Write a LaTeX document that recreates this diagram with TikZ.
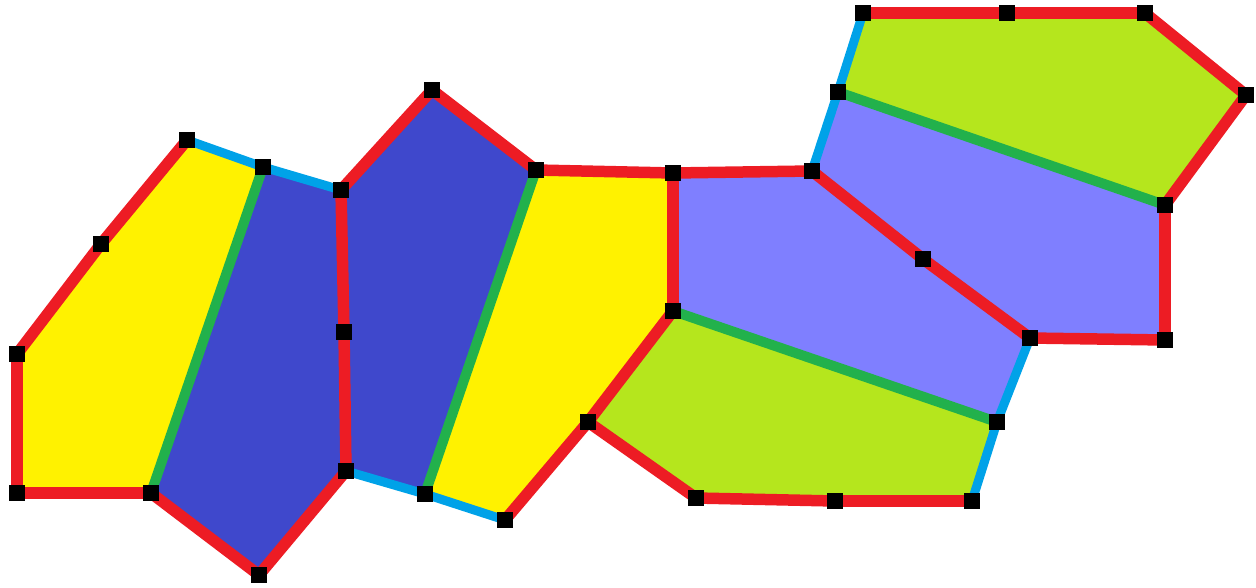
\documentclass[tikz,border=0pt]{standalone}
\usetikzlibrary{positioning}
\definecolor{ered}{HTML}{ED1C24}
\definecolor{ecyan}{HTML}{00A2E8}
\definecolor{egreen}{HTML}{22B14C}
\definecolor{fyellow}{HTML}{FFF200}
\definecolor{fblue}{HTML}{3F48CC}
\definecolor{fviolet}{HTML}{7F7FFF}
\definecolor{flime}{HTML}{B5E61D}
\tikzset{
  redge/.style={draw=ered,line width=11.5pt,line cap=round},
  cedge/.style={draw=ecyan,line width=9pt,line cap=butt},
  gedge/.style={draw=egreen,line width=10pt,line cap=butt},
  vsq/.style={fill=black,inner sep=0pt,minimum size=16pt,draw=none,rectangle},
}
\begin{document}
\begin{tikzpicture}[x=1pt,y=-1pt]
\useasboundingbox (0,0) rectangle (1256,587);
% vertices
\coordinate (A) at (187,140);
\coordinate (B) at (263,167);
\coordinate (C) at (341,190);
\coordinate (D) at (432,90);
\coordinate (E) at (536,170);
\coordinate (F) at (673,173);
\coordinate (G) at (812,171);
\coordinate (H) at (838,92);
\coordinate (I) at (863,13);
\coordinate (J) at (1007,13);
\coordinate (K) at (1145,13);
\coordinate (L) at (1246,95);
\coordinate (M) at (1165,205);
\coordinate (N) at (1165,340);
\coordinate (O) at (1030,338);
\coordinate (P) at (923,259);
\coordinate (Q) at (673,311);
\coordinate (R) at (997,422);
\coordinate (S) at (972,501);
\coordinate (T) at (835,501);
\coordinate (U) at (696,498);
\coordinate (V) at (588,422);
\coordinate (W) at (505,520);
\coordinate (X) at (425,494);
\coordinate (Y) at (346,471);
\coordinate (Z) at (259,575);
\coordinate (AA) at (151,493);
\coordinate (AB) at (17,493);
\coordinate (AC) at (17,354);
\coordinate (AD) at (101,244);
\coordinate (AE) at (344,332);
% faces
\fill[fyellow] (A) -- (B) -- (AA) -- (AB) -- (AC) -- (AD) -- cycle;
\fill[fblue] (B) -- (C) -- (AE) -- (Y) -- (Z) -- (AA) -- cycle;
\fill[fblue] (C) -- (D) -- (E) -- (X) -- (Y) -- (AE) -- cycle;
\fill[fyellow] (E) -- (F) -- (Q) -- (V) -- (W) -- (X) -- cycle;
\fill[fviolet] (F) -- (G) -- (P) -- (O) -- (R) -- (Q) -- cycle;
\fill[fviolet] (H) -- (M) -- (N) -- (O) -- (P) -- (G) -- cycle;
\fill[flime] (I) -- (J) -- (K) -- (L) -- (M) -- (H) -- cycle;
\fill[flime] (Q) -- (R) -- (S) -- (T) -- (U) -- (V) -- cycle;
% edges
\draw[cedge] (A) -- (B);
\draw[cedge] (B) -- (C);
\draw[cedge] (Y) -- (X);
\draw[cedge] (X) -- (W);
\draw[cedge] (O) -- (R);
\draw[cedge] (R) -- (S);
\draw[cedge] (G) -- (H);
\draw[cedge] (H) -- (I);
\draw[gedge] (B) -- (AA);
\draw[gedge] (E) -- (X);
\draw[gedge] (Q) -- (R);
\draw[gedge] (H) -- (M);
\draw[redge] (A) -- (AD);
\draw[redge] (AD) -- (AC);
\draw[redge] (AC) -- (AB);
\draw[redge] (AB) -- (AA);
\draw[redge] (AA) -- (Z);
\draw[redge] (Z) -- (Y);
\draw[redge] (Y) -- (AE);
\draw[redge] (AE) -- (C);
\draw[redge] (C) -- (D);
\draw[redge] (D) -- (E);
\draw[redge] (E) -- (F);
\draw[redge] (F) -- (G);
\draw[redge] (G) -- (P);
\draw[redge] (P) -- (O);
\draw[redge] (O) -- (N);
\draw[redge] (N) -- (M);
\draw[redge] (M) -- (L);
\draw[redge] (L) -- (K);
\draw[redge] (K) -- (J);
\draw[redge] (J) -- (I);
\draw[redge] (F) -- (Q);
\draw[redge] (Q) -- (V);
\draw[redge] (V) -- (W);
\draw[redge] (V) -- (U);
\draw[redge] (U) -- (T);
\draw[redge] (T) -- (S);
% vertex markers
\foreach \v in {A,B,C,D,E,F,G,H,I,J,K,L,M,N,O,P,Q,R,S,T,U,V,W,X,Y,Z,AA,AB,AC,AD,AE}
  \node[vsq] (s\v) at (\v) {};
\end{tikzpicture}
\end{document}
